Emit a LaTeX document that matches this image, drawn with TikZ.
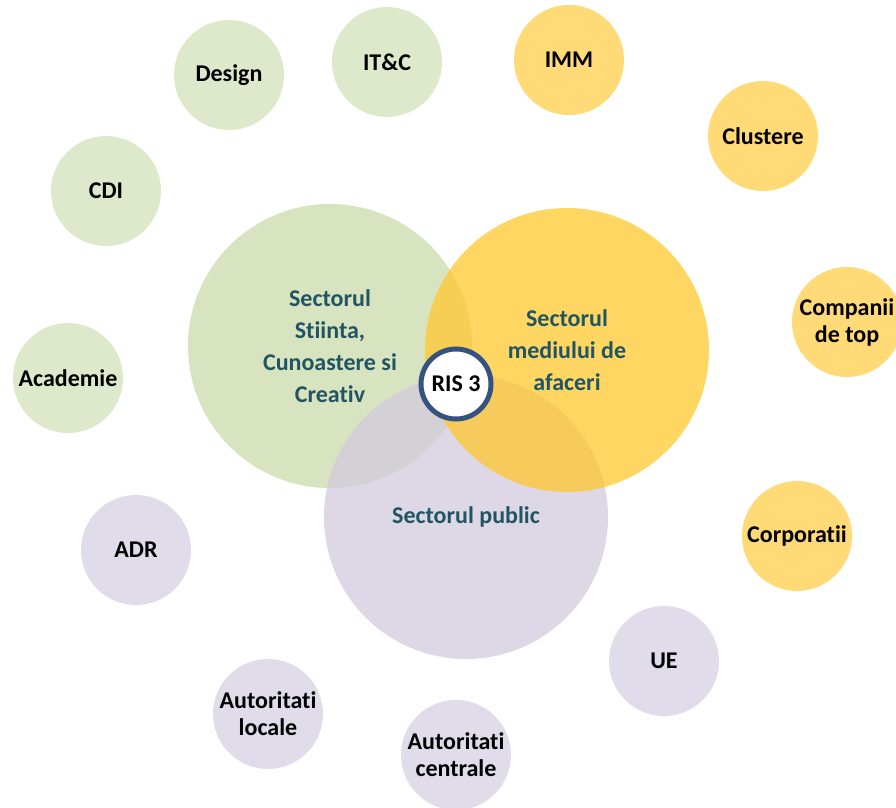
\documentclass[tikz,border=0pt]{standalone}
\usepackage{fontspec}
\setmainfont{Carlito}[Ligatures=NoCommon]
\definecolor{lightgreen}{RGB}{222,232,203}
\definecolor{lightgold}{RGB}{255,218,118}
\definecolor{lightlilac}{RGB}{225,220,234}
\definecolor{biggreen}{RGB}{203,219,171}
\definecolor{biggold}{RGB}{255,200,46}
\definecolor{biglilac}{RGB}{210,202,222}
\definecolor{sectortext}{RGB}{33,85,100}
\definecolor{risborder}{RGB}{52,83,128}

\begin{document}
\begin{tikzpicture}[x=0.5pt,y=-0.5pt,
  bubble/.style={circle, minimum size=55pt, inner sep=0pt, align=center, font=\bfseries\fontsize{12}{13.5}\selectfont},
  sector/.style={circle, minimum size=142pt, inner sep=0pt, fill opacity=0.75, text opacity=1, align=center, text=sectortext, font=\bfseries\fontsize{12}{16}\selectfont}]
  \clip (0,0) rectangle (896,808);
  % ring of small bubbles
  \node[bubble, fill=lightgreen] (design) at (229,75) {Design};
  \node[bubble, fill=lightgreen] (itc) at (387,62) {IT\&C};
  \node[bubble, fill=lightgold] (imm) at (569,60) {IMM};
  \node[bubble, fill=lightgold] (clustere) at (763,136) {Clustere};
  \node[bubble, fill=lightgold] (companii) at (847,322) {Companii\\de top};
  \node[bubble, fill=lightgold] (corporatii) at (797,536) {Corporatii};
  \node[bubble, fill=lightlilac] (ue) at (664,661) {UE};
  \node[bubble, fill=lightlilac] (autcentrale) at (456,755) {Autoritati\\centrale};
  \node[bubble, fill=lightlilac] (autlocale) at (268,714) {Autoritati\\locale};
  \node[bubble, fill=lightlilac] (adr) at (136,550) {ADR};
  \node[bubble, fill=lightgreen] (academie) at (68,378) {Academie};
  \node[bubble, fill=lightgreen] (cdi) at (106,191) {CDI};
  % the three sectors
  \node[sector, fill=biggreen] (stiinta) at (330,346) {Sectorul\\Stiinta,\\Cunoastere si\\Creativ};
  \node[sector, fill=biglilac] (public) at (466,517) {Sectorul public};
  \node[sector, fill=biggold] (afaceri) at (567,350) {Sectorul\\mediului de\\afaceri};
  \node[circle, draw=risborder, line width=2.5pt, fill=white, minimum size=35pt, inner sep=0pt, font=\bfseries\fontsize{12}{14}\selectfont] (ris) at (456,384) {RIS 3};
\end{tikzpicture}
\end{document}
